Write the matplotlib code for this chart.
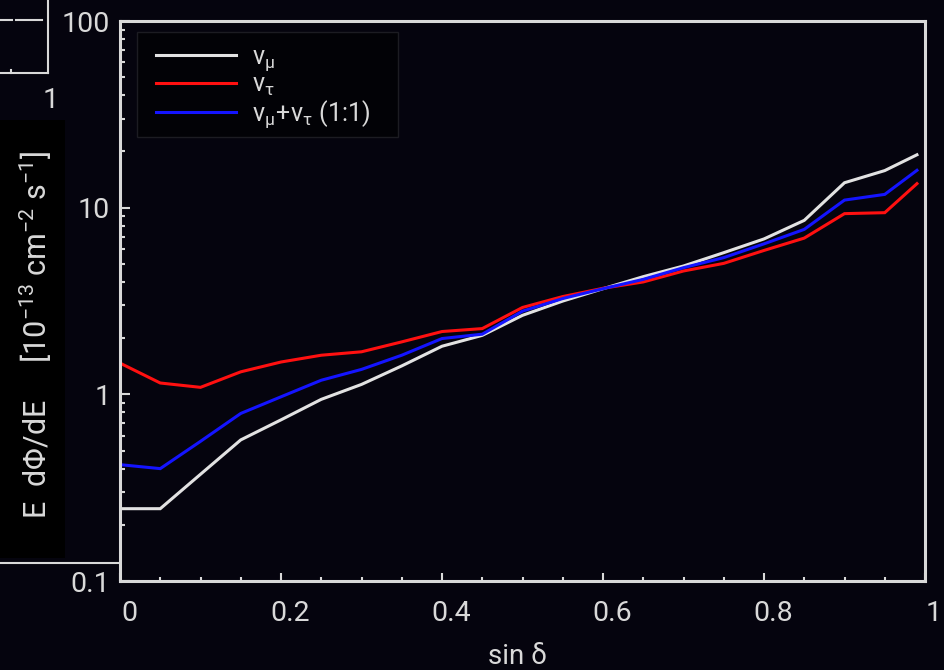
import matplotlib
matplotlib.use("Agg")
import matplotlib.pyplot as plt
import matplotlib.ticker as mticker
from matplotlib.lines import Line2D
from matplotlib.patches import Rectangle
from matplotlib.transforms import ScaledTranslation

# Differential flux vs. sin(declination)
sin_dec = [0.0, 0.05, 0.10, 0.15, 0.20, 0.25, 0.30, 0.35, 0.40, 0.45, 0.50,
           0.55, 0.60, 0.65, 0.70, 0.75, 0.80, 0.85, 0.90, 0.95, 0.99]
flux_numu = [0.244, 0.244, 0.373, 0.57, 0.73, 0.94, 1.13, 1.42, 1.81, 2.07, 2.65,
             3.16, 3.68, 4.27, 4.87, 5.74, 6.8, 8.55, 13.6, 15.8, 19.2]
flux_nutau = [1.47, 1.15, 1.09, 1.32, 1.49, 1.62, 1.69, 1.91, 2.17, 2.25, 2.92,
              3.34, 3.70, 4.0, 4.58, 5.03, 5.9, 6.87, 9.29, 9.4, 13.45]
flux_mix = [0.42, 0.40, 0.56, 0.79, 0.97, 1.19, 1.36, 1.62, 1.99, 2.10, 2.79,
            3.26, 3.68, 4.13, 4.77, 5.40, 6.4, 7.65, 10.98, 11.78, 15.85]
series_labels = [r"$\mathregular{ν_{μ}}$", r"$\mathregular{ν_{τ}}$",
                 r"$\mathregular{ν_{μ}\!+\!ν_{τ}}$ (1:1)"]
series_colors = ["#e2e2e2", "#ff1010", "#1414ff"]
y_tick_values = [0.1, 1, 10, 100]
y_tick_labels = ["0.1", "1", "10", "100"]
x_tick_values = [0, 0.2, 0.4, 0.6, 0.8, 1]
x_tick_labels = ["0", "0.2", "0.4", "0.6", "0.8", "1"]

BG = "#05040e"
FG = "#d9d9d9"
W, H = 944, 670

plt.rcParams["font.family"] = ["Roboto", "DejaVu Sans"]
plt.rcParams["mathtext.fontset"] = "custom"
plt.rcParams["mathtext.rm"] = "Roboto"
plt.rcParams["mathtext.it"] = "Roboto:italic"

fig = plt.figure(figsize=(W / 100, H / 100), dpi=100, facecolor=BG)
ax = fig.add_axes([120 / W, 1 - 581 / H, (925 - 120) / W, (581 - 21) / H])
ax.set_facecolor(BG)

for ys, lab, col in zip([flux_numu, flux_nutau, flux_mix], series_labels, series_colors):
    ax.plot(sin_dec, ys, color=col, lw=2.2, label=lab, solid_joinstyle="miter")

ax.set_yscale("log")
ax.set_xlim(0, 1)
ax.set_ylim(0.1, 100)

ax.set_yticks(y_tick_values)
ax.set_yticklabels(y_tick_labels)
ax.yaxis.set_minor_locator(mticker.LogLocator(base=10, subs=range(2, 10)))
ax.yaxis.set_minor_formatter(mticker.NullFormatter())
ax.set_xticks(x_tick_values)
ax.set_xticklabels(x_tick_labels)
ax.xaxis.set_minor_locator(mticker.MultipleLocator(0.05))

for s in ax.spines.values():
    s.set_color(FG)
    s.set_linewidth(2.2)

ax.tick_params(axis="both", which="both", direction="in", colors=FG,
               labelcolor=FG, labelsize=20.5, top=False, right=False)
ax.tick_params(axis="y", which="major", length=7.2, width=1.5, pad=7)
ax.tick_params(axis="y", which="minor", length=3.6, width=1.5)
ax.tick_params(axis="x", which="major", length=5.8, width=1.5, pad=14)
ax.tick_params(axis="x", which="minor", length=2.9, width=1.5)

shift = ScaledTranslation(0.09, 0, fig.dpi_scale_trans)
for lbl in ax.get_xticklabels():
    lbl.set_transform(lbl.get_transform() + shift)

# Legend box drawn separately so its padding can be set per side
ax.add_artist(Rectangle((137 / W, 1 - 137 / H), (398 - 137) / W, (137 - 32) / H,
                        transform=fig.transFigure, facecolor="#020206",
                        edgecolor="#1c1c22", linewidth=1.0, zorder=4.5))
leg = ax.legend(loc="upper left", bbox_to_anchor=(156 / W, 1 - 45 / H),
                bbox_transform=fig.transFigure, borderaxespad=0,
                fontsize=18, frameon=False,
                handlelength=3.2, handletextpad=0.65, labelspacing=0.0,
                borderpad=0)
for t in leg.get_texts():
    t.set_color(FG)

# Partial inset frame on the left edge
def fig_line(x0, y0, x1, y1, lw=1.5):
    fig.add_artist(Line2D([x0 / W, x1 / W], [1 - y0 / H, 1 - y1 / H],
                          transform=fig.transFigure, color=FG, lw=lw))

fig_line(0, 19.5, 12, 19.5)
fig_line(16, 19.5, 42, 19.5)
fig_line(48, 0, 48, 73)
fig_line(0, 73, 48, 73)
fig_line(10.7, 73, 10.7, 70)
fig_line(0, 563, 118, 563)
fig.text(51 / W, 1 - 101 / H, "1", color=FG, fontsize=20.5,
         ha="center", va="center")

# Y-axis title on a black band
fig.add_artist(Rectangle((0, 1 - 558 / H), 65 / W, (558 - 120) / H,
                         transform=fig.transFigure, facecolor="#000000",
                         edgecolor="none", zorder=0))
fig.text(36 / W, 1 - 335 / H,
         r"E  dΦ/dE     [10$\mathregular{^{-13}}$ cm$\mathregular{^{-2}}$ s$\mathregular{^{-1}}$]",
         rotation=90, color=FG, fontsize=22, ha="center", va="center")

fig.text(518 / W, 1 - 656 / H, "sin δ", color=FG, fontsize=20,
         ha="center", va="center")

fig.savefig("out.png", dpi=100, facecolor=BG)
